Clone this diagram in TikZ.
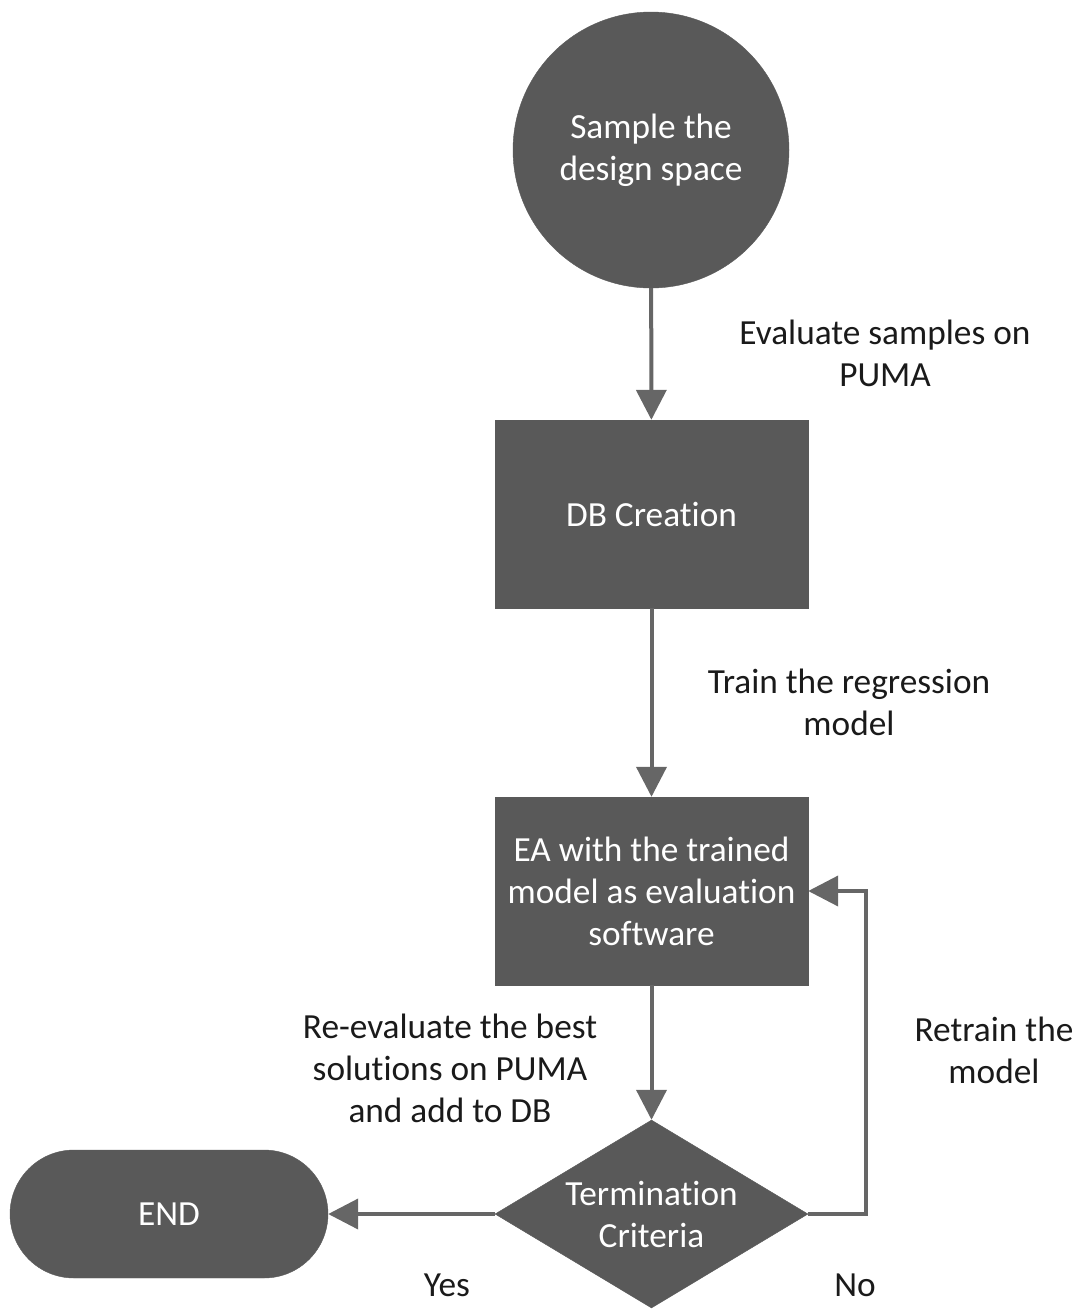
\documentclass[tikz,border=0pt]{standalone}
\usepackage{fontspec}
\setmainfont{Carlito}[RawFeature={-liga;-clig;-dlig;-calt;-hlig}]
\usetikzlibrary{shapes.geometric,arrows.meta}
\definecolor{shapefill}{HTML}{595959}
\definecolor{linec}{HTML}{666666}
\definecolor{labelc}{HTML}{1A1A1A}
\newcommand{\tix}{t\kern0pt i}
\begin{document}
\begin{tikzpicture}[x=1pt,y=-1pt,
 box/.style={fill=shapefill, draw=shapefill, text=white, font=\fontsize{35.3}{42}\selectfont, align=center, inner sep=0pt},
 intext/.style={text=white, font=\fontsize{35.3}{42}\selectfont, align=center, inner sep=0pt},
 lbl/.style={text=labelc, font=\fontsize{35.3}{42}\selectfont, align=center, inner sep=0pt},
 conn/.style={draw=linec, line width=4pt, -{Triangle[length=30pt,width=30pt]}}]
\useasboundingbox (0,0) rectangle (1081,1310);
\node[box, circle, minimum size=276pt] (s) at (651,150) {Sample the\\design space};
\node[box, rectangle, minimum width=313pt, minimum height=188pt] (db) at (651.5,514) {DB Crea\tix on};
\node[box, rectangle, minimum width=313pt, minimum height=188pt] (ea) at (651.5,891) {EA with the trained\\model as evalua\tix on\\software};
\node[box, diamond, minimum width=313pt, minimum height=188pt] (tc) at (651.5,1214) {};
\node[intext] (tct) at (651.5,1214) {Termina\tix on\\Criteria};
\node[box, rectangle, rounded corners=64pt, minimum width=318pt, minimum height=128pt] (end) at (169,1214) {END};
\draw[conn] (s) -- (db);
\draw[conn] (db) -- (ea);
\draw[conn] (ea) -- (tc);
\draw[conn] (tc) -- (end);
\draw[conn] (tc.east) -- ++(58,0) |- (ea.east);
\node[lbl] (l1) at (885,353) {Evaluate samples on\\PUMA};
\node[lbl] (l2) at (849,702) {Train the regression\\model};
\node[lbl] (l3) at (450,1068) {Re-evaluate the best\\solu\tix ons on PUMA\\and add to DB};
\node[lbl] (l4) at (994,1050) {Retrain the\\model};
\node[lbl] (l5) at (447,1285) {Yes};
\node[lbl] (l6) at (855,1285) {No};
\end{tikzpicture}
\end{document}
